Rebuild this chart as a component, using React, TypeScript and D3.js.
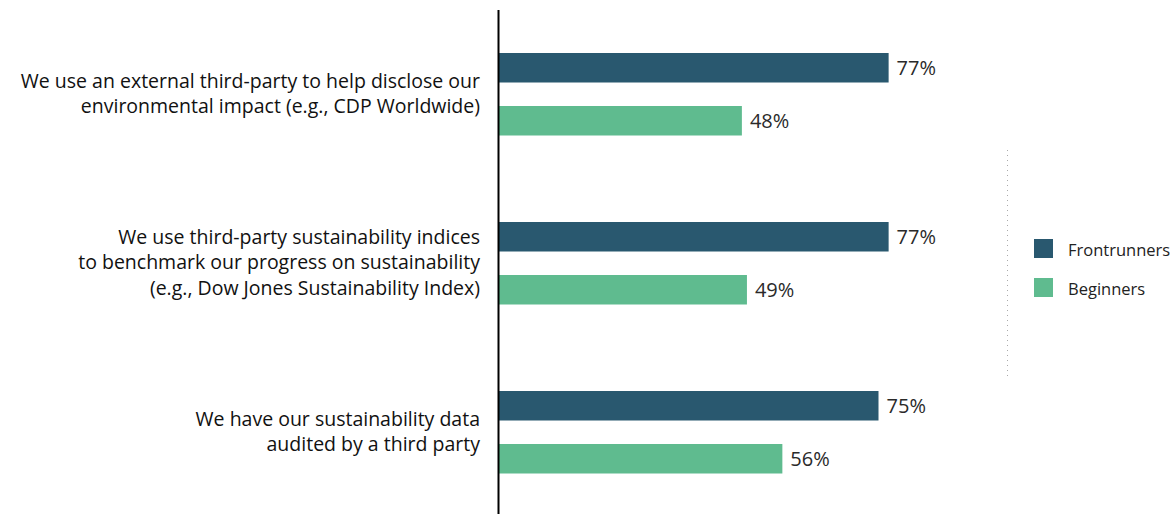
import React from "react";
import * as d3 from "d3";

const categories: string[][] = [
  ["We use an external third-party to help disclose our", "environmental impact (e.g., CDP Worldwide)"],
  ["We use third-party sustainability indices", "to benchmark our progress on sustainability", "(e.g., Dow Jones Sustainability Index)"],
  ["We have our sustainability data", "audited by a third party"],
];
const seriesNames = ["Frontrunners", "Beginners"];
const frontrunners = [77, 77, 75];
const beginners = [48, 49, 56];
const colors = ["#29586f", "#5fbb8f"];

const W = 1175;
const H = 514;
const FONT = "'Open Sans', 'Noto Sans', sans-serif";

export default function App() {
  const x = d3.scaleLinear().domain([0, 100]).range([499, 1005]);
  const y = d3.scaleBand<number>().domain([0, 1, 2]).range([10, 517]);
  const series = [frontrunners, beginners];
  const bh = 29.5;
  return (
    <div style={{ position: "absolute", left: 0, top: 0, width: W, height: H, overflow: "hidden" }}>
      <svg width={W} height={H} style={{ display: "block", fontFamily: FONT }}>
        {categories.map((lines, i) => {
          const cy = (y(i) as number) + y.bandwidth() / 2 - 1;
          return (
            <g key={i}>
              {series.map((vals, s) => {
                const top = (y(i) as number) + (s === 0 ? 43 : 96);
                return (
                  <g key={s}>
                    <rect x={x(0)} y={top} width={x(vals[i]) - x(0)} height={bh} fill={colors[s]} />
                    <text x={x(vals[i]) + 8} y={top + bh / 2} dy="0.35em" fontSize={20} fill="#2a2a2a">
                      {vals[i]}%
                    </text>
                  </g>
                );
              })}
              <text textAnchor="end" fontSize={19.5} fill="#111">
                {lines.map((ln, k) => (
                  <tspan key={k} x={480} y={cy + (k - (lines.length - 1) / 2) * 25.5} dy="0.35em">
                    {ln}
                  </tspan>
                ))}
              </text>
            </g>
          );
        })}
        <line x1={498.5} x2={498.5} y1={10} y2={H} stroke="#000" strokeWidth={2} />
        <line x1={1007.5} x2={1007.5} y1={150} y2={378} stroke="#aaa" strokeWidth={1} strokeDasharray="1,4" />
        {seriesNames.map((n, s) => (
          <g key={n}>
            <rect x={1034} y={239 + s * 39} width={19} height={19} fill={colors[s]} />
            <text x={1068} y={250 + s * 39} dy="0.35em" fontSize={16.5} fill="#222">
              {n}
            </text>
          </g>
        ))}
      </svg>
    </div>
  );
}
